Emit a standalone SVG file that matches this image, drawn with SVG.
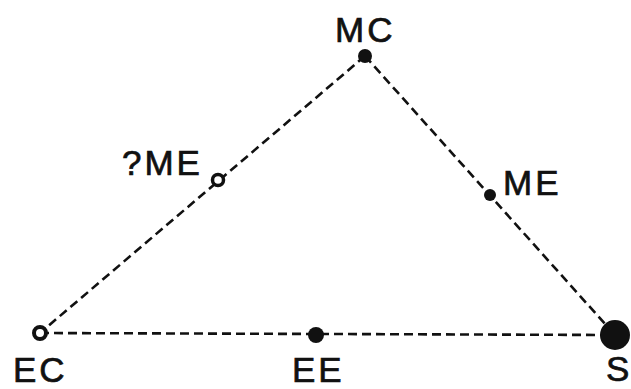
<svg xmlns="http://www.w3.org/2000/svg" width="631" height="389" viewBox="0 0 631 389">
<style>
.lbl{font-family:"Liberation Sans",Arial,sans-serif;font-size:35px;fill:#111;stroke:#111;stroke-width:0.7;letter-spacing:3px}
.ln{stroke:#111;stroke-width:2.6;stroke-dasharray:9 5;fill:none}
.dot{fill:#111}
</style>
<rect width="631" height="389" fill="#fff"/>
<g id="connectors">
<line class="ln" x1="365" y1="56" x2="40" y2="333"/>
<line class="ln" x1="365" y1="56" x2="615" y2="335"/>
<line class="ln" x1="40" y1="333" x2="615" y2="335"/>
</g>
<g id="MC"><circle class="dot" cx="365" cy="56" r="7"/><text class="lbl" x="335" y="42">MC</text></g>
<g id="qME"><circle cx="218" cy="180" r="5.5" fill="#fff" stroke="#111" stroke-width="3.5"/><text class="lbl" x="122" y="175">?ME</text></g>
<g id="ME"><circle class="dot" cx="490" cy="195" r="6"/><text class="lbl" x="503" y="195">ME</text></g>
<g id="EC"><circle cx="40" cy="333" r="6" fill="#fff" stroke="#111" stroke-width="4"/><text class="lbl" x="13" y="382">EC</text></g>
<g id="EE"><circle class="dot" cx="316" cy="335" r="8"/><text class="lbl" x="292" y="382">EE</text></g>
<g id="S"><circle class="dot" cx="615" cy="335" r="15"/><text class="lbl" x="606" y="381" font-size="33">S</text></g>
</svg>
